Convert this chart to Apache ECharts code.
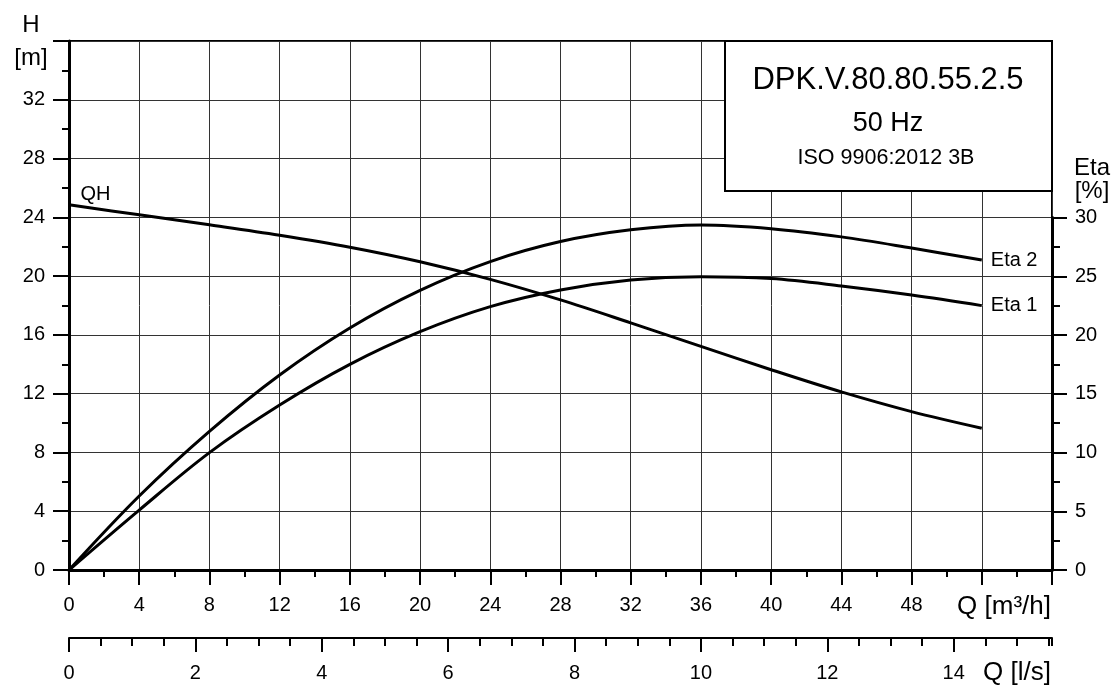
<!DOCTYPE html>
<html>
<head>
<meta charset="utf-8">
<script src="https://cdn.jsdelivr.net/npm/echarts@6/dist/echarts.min.js"></script>
<style>
html,body{margin:0;padding:0;background:#fff;}
#chart{width:1112px;height:691px;}
</style>
</head>
<body>
<div id="chart"></div>
<script>
// Flow Q [m3/h]
const q = [0, 4, 8, 12, 16, 20, 24, 28, 32, 36, 40, 44, 48, 52];
// Head H [m]
const head = [24.85, 24.17, 23.49, 22.78, 21.97, 20.98, 19.78, 18.38, 16.82, 15.22, 13.63, 12.12, 10.78, 9.65];
// Efficiency [%]
const eta1 = [0, 5.1, 9.99, 14.04, 17.5, 20.28, 22.41, 23.83, 24.68, 24.96, 24.8, 24.17, 23.4, 22.5];
const eta2 = [0, 6.3, 11.8, 16.6, 20.6, 23.8, 26.25, 27.95, 28.95, 29.36, 29.05, 28.35, 27.4, 26.38];

const titleLines = ['DPK.V.80.80.55.2.5', '50 Hz', 'ISO 9906:2012 3B'];
const curveNames = ['QH', 'Eta 1', 'Eta 2'];

const FONT = 'Liberation Sans, Arial, sans-serif';
const chart = echarts.init(document.getElementById('chart'), null, {renderer: 'canvas'});

const pairs = arr => q.map((x, i) => [x, arr[i]]);
const lblStyle = {color: '#000', fontFamily: FONT, fontSize: 20};
const curveLbl = {color: '#000', fontFamily: FONT, fontSize: 20};

const option = {
  animation: false,
  backgroundColor: '#fff',
  grid: [
    {left: 69, top: 41, width: 983, height: 529, show: true, borderColor: '#000', borderWidth: 2, backgroundColor: 'transparent'},
    {left: 69, top: 217.5, width: 983, height: 352.5, show: false}
  ],
  xAxis: [
    {
      gridIndex: 0, type: 'value', min: 0, max: 56, interval: 4, position: 'bottom',
      axisLine: {show: true, onZero: false, lineStyle: {color: '#000', width: 3}},
      axisTick: {show: true, inside: false, length: 15, lineStyle: {color: '#000', width: 2}},
      minorTick: {show: true, splitNumber: 2, length: 7, lineStyle: {color: '#000', width: 2}},
      splitLine: {show: true, lineStyle: {color: '#333', width: 1}},
      axisLabel: Object.assign({margin: 25, formatter: v => (v <= 48 ? String(v) : '')}, lblStyle)
    },
    {
      gridIndex: 0, type: 'value', min: 0, max: 56 / 3.6, interval: 2, position: 'bottom', offset: 68,
      axisLine: {show: true, onZero: false, lineStyle: {color: '#000', width: 2}},
      axisTick: {show: true, length: 14, lineStyle: {color: '#000', width: 2}},
      splitLine: {show: false},
      axisLabel: Object.assign({margin: 25, showMaxLabel: false, formatter: v => (Math.abs(v - Math.round(v)) < 1e-6 && v <= 14 ? String(v) : '')}, lblStyle)
    },
    {
      gridIndex: 0, type: 'value', min: 0, max: 56 / 3.6, interval: 0.5, position: 'bottom', offset: 68,
      axisLine: {show: false, onZero: false},
      axisTick: {show: true, length: 8, lineStyle: {color: '#000', width: 2}},
      splitLine: {show: false},
      axisLabel: {show: false}
    },
    {
      gridIndex: 1, type: 'value', min: 0, max: 56, show: false
    }
  ],
  yAxis: [
    {
      gridIndex: 0, type: 'value', min: 0, max: 36, interval: 4, position: 'left',
      axisLine: {show: true, onZero: false, lineStyle: {color: '#000', width: 3}},
      axisTick: {show: true, length: 16, lineStyle: {color: '#000', width: 2}},
      minorTick: {show: true, splitNumber: 2, length: 7, lineStyle: {color: '#000', width: 2}},
      splitLine: {show: true, lineStyle: {color: '#333', width: 1}},
      axisLabel: Object.assign({margin: 24, formatter: v => (v <= 32 ? String(v) : '')}, lblStyle)
    },
    {
      gridIndex: 1, type: 'value', min: 0, max: 30, interval: 5, position: 'right',
      axisLine: {show: true, onZero: false, lineStyle: {color: '#000', width: 3}},
      axisTick: {show: true, length: 15, lineStyle: {color: '#000', width: 2}},
      minorTick: {show: true, splitNumber: 2, length: 8, lineStyle: {color: '#000', width: 2}},
      splitLine: {show: false},
      axisLabel: Object.assign({margin: 23}, lblStyle)
    }
  ],
  series: [
    {
      name: curveNames[0], type: 'line', xAxisIndex: 0, yAxisIndex: 0,
      data: pairs(head),
      smooth: 0.35, showSymbol: false, symbol: 'none',
      lineStyle: {color: '#000', width: 3}, z: 5,
      markPoint: {
        symbol: 'circle', symbolSize: 1, itemStyle: {color: 'rgba(0,0,0,0)'},
        label: Object.assign({show: true, formatter: curveNames[0], position: [12, -20]}, curveLbl),
        data: [{coord: [q[0], head[0]]}]
      }
    },
    {
      name: curveNames[1], type: 'line', xAxisIndex: 3, yAxisIndex: 1,
      data: pairs(eta1), smooth: 0.35, showSymbol: false, symbol: 'none',
      lineStyle: {color: '#000', width: 3}, z: 5,
      endLabel: Object.assign({show: true, formatter: curveNames[1], distance: 9}, curveLbl)
    },
    {
      name: curveNames[2], type: 'line', xAxisIndex: 3, yAxisIndex: 1,
      data: pairs(eta2), smooth: 0.35, showSymbol: false, symbol: 'none',
      lineStyle: {color: '#000', width: 3}, z: 5,
      endLabel: Object.assign({show: true, formatter: curveNames[2], distance: 9}, curveLbl)
    }
  ],
  graphic: [
    {type: 'rect', z: 100, shape: {x: 725, y: 41, width: 327, height: 150}, style: {fill: '#fff', stroke: '#000', lineWidth: 2}},
    {type: 'text', z: 101, x: 888, y: 80, style: {text: titleLines[0], font: '31px ' + FONT, fill: '#000', textAlign: 'center', textVerticalAlign: 'middle'}},
    {type: 'text', z: 101, x: 888, y: 124, style: {text: titleLines[1], font: '27px ' + FONT, fill: '#000', textAlign: 'center', textVerticalAlign: 'middle'}},
    {type: 'text', z: 101, x: 886, y: 158, style: {text: titleLines[2], font: '21.5px ' + FONT, fill: '#000', textAlign: 'center', textVerticalAlign: 'middle'}},
    {type: 'text', z: 101, x: 31, y: 25, style: {text: 'H', font: '24px ' + FONT, fill: '#000', textAlign: 'center', textVerticalAlign: 'middle'}},
    {type: 'text', z: 101, x: 31, y: 58, style: {text: '[m]', font: '24px ' + FONT, fill: '#000', textAlign: 'center', textVerticalAlign: 'middle'}},
    {type: 'text', z: 101, x: 1092, y: 168, style: {text: 'Eta', font: '24px ' + FONT, fill: '#000', textAlign: 'center', textVerticalAlign: 'middle'}},
    {type: 'text', z: 101, x: 1092, y: 191, style: {text: '[%]', font: '24px ' + FONT, fill: '#000', textAlign: 'center', textVerticalAlign: 'middle'}},
    {type: 'text', z: 101, x: 1051, y: 607, style: {text: 'Q [m³/h]', font: '26px ' + FONT, fill: '#000', textAlign: 'right', textVerticalAlign: 'middle'}},
    {type: 'text', z: 101, x: 1051, y: 673, style: {text: 'Q [l/s]', font: '26px ' + FONT, fill: '#000', textAlign: 'right', textVerticalAlign: 'middle'}}
  ]
};
chart.setOption(option);
</script>
</body>
</html>
